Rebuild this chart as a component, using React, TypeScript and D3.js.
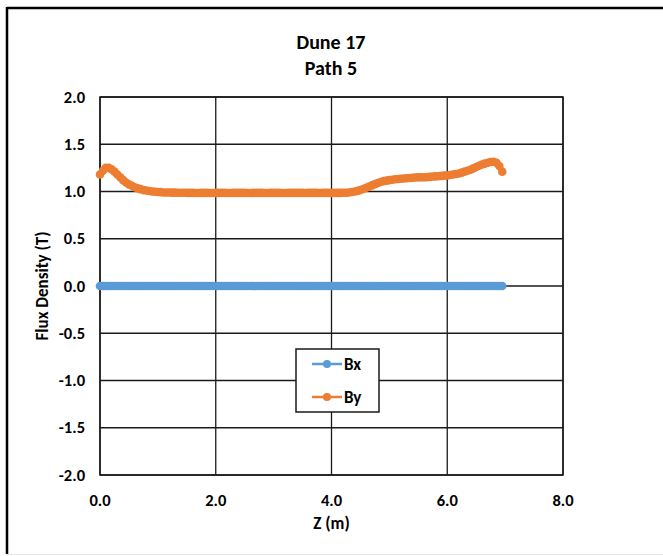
import React, { useEffect, useRef } from "react";
import * as d3 from "d3";

// position along path (m)
const zValues = [
  0, 0.05, 0.1, 0.15, 0.2, 0.25, 0.3, 0.35, 0.4, 0.45,
  0.5, 0.55, 0.6, 0.65, 0.7, 0.75, 0.8, 0.85, 0.9, 0.95,
  1.0, 1.05, 1.1, 1.15, 1.2, 1.25, 1.3, 1.35, 1.4, 1.45,
  1.5, 1.55, 1.6, 1.65, 1.7, 1.75, 1.8, 1.85, 1.9, 1.95,
  2.0, 2.05, 2.1, 2.15, 2.2, 2.25, 2.3, 2.35, 2.4, 2.45,
  2.5, 2.55, 2.6, 2.65, 2.7, 2.75, 2.8, 2.85, 2.9, 2.95,
  3.0, 3.05, 3.1, 3.15, 3.2, 3.25, 3.3, 3.35, 3.4, 3.45,
  3.5, 3.55, 3.6, 3.65, 3.7, 3.75, 3.8, 3.85, 3.9, 3.95,
  4.0, 4.05, 4.1, 4.15, 4.2, 4.25, 4.3, 4.35, 4.4, 4.45,
  4.5, 4.55, 4.6, 4.65, 4.7, 4.75, 4.8, 4.85, 4.9, 4.95,
  5.0, 5.05, 5.1, 5.15, 5.2, 5.25, 5.3, 5.35, 5.4, 5.45,
  5.5, 5.55, 5.6, 5.65, 5.7, 5.75, 5.8, 5.85, 5.9, 5.95,
  6.0, 6.05, 6.1, 6.15, 6.2, 6.25, 6.3, 6.35, 6.4, 6.45,
  6.5, 6.55, 6.6, 6.65, 6.7, 6.75, 6.8, 6.85, 6.9, 6.95
];

const bxValues = [
  0, 0, 0, 0, 0, 0, 0, 0, 0, 0, 0, 0, 0, 0, 0, 0, 0, 0, 0, 0,
  0, 0, 0, 0, 0, 0, 0, 0, 0, 0, 0, 0, 0, 0, 0, 0, 0, 0, 0, 0,
  0, 0, 0, 0, 0, 0, 0, 0, 0, 0, 0, 0, 0, 0, 0, 0, 0, 0, 0, 0,
  0, 0, 0, 0, 0, 0, 0, 0, 0, 0, 0, 0, 0, 0, 0, 0, 0, 0, 0, 0,
  0, 0, 0, 0, 0, 0, 0, 0, 0, 0, 0, 0, 0, 0, 0, 0, 0, 0, 0, 0,
  0, 0, 0, 0, 0, 0, 0, 0, 0, 0, 0, 0, 0, 0, 0, 0, 0, 0, 0, 0,
  0, 0, 0, 0, 0, 0, 0, 0, 0, 0, 0, 0, 0, 0, 0, 0, 0, 0, 0, 0
];

const byValues = [
  1.18, 1.22, 1.25, 1.25, 1.235, 1.21, 1.18, 1.15, 1.12, 1.095,
  1.075, 1.06, 1.045, 1.035, 1.025, 1.015, 1.01, 1.005, 1.0, 0.998,
  0.995, 0.993, 0.99, 0.99, 0.99, 0.988, 0.988, 0.987, 0.987, 0.986,
  0.985, 0.985, 0.985, 0.984, 0.984, 0.985, 0.985, 0.985, 0.984, 0.984,
  0.985, 0.985, 0.985, 0.985, 0.984, 0.984, 0.985, 0.985, 0.985, 0.985,
  0.985, 0.984, 0.984, 0.985, 0.985, 0.985, 0.985, 0.984, 0.984, 0.985,
  0.985, 0.985, 0.985, 0.984, 0.984, 0.985, 0.985, 0.985, 0.985, 0.985,
  0.985, 0.984, 0.985, 0.985, 0.985, 0.985, 0.984, 0.985, 0.985, 0.985,
  0.985, 0.985, 0.985, 0.985, 0.986, 0.987, 0.99, 0.994, 1.0, 1.007,
  1.015, 1.027, 1.04, 1.052, 1.065, 1.078, 1.09, 1.1, 1.11, 1.115,
  1.12, 1.125, 1.13, 1.133, 1.135, 1.138, 1.14, 1.143, 1.145, 1.148,
  1.15, 1.15, 1.15, 1.152, 1.155, 1.158, 1.16, 1.162, 1.165, 1.168,
  1.17, 1.175, 1.18, 1.185, 1.19, 1.2, 1.21, 1.22, 1.23, 1.245,
  1.26, 1.272, 1.285, 1.295, 1.305, 1.312, 1.315, 1.305, 1.27, 1.21
];

const xTicks = [0, 2, 4, 6, 8];
const yTicks = [-2, -1.5, -1, -0.5, 0, 0.5, 1, 1.5, 2];

const seriesNames = ["Bx", "By"];
const seriesColors = ["#5B9BD5", "#ED7D31"];

const FONT = "Carlito, Calibri, 'Open Sans', 'Liberation Sans', sans-serif";

// Excel style labels: hyphen minus, one decimal
const fmt = (d: number) => d.toFixed(1);

export default function App() {
  const ref = useRef<SVGSVGElement | null>(null);

  useEffect(() => {
    const width = 663;
    const height = 556;
    const margin = { top: 97, left: 100, bottom: 81, right: 100 };
    const iwidth = width - margin.left - margin.right;
    const iheight = height - margin.top - margin.bottom;

    const svg = d3.select(ref.current);
    svg.selectAll("*").remove();

    svg.append("rect")
      .attr("width", width)
      .attr("height", height)
      .attr("fill", "white");

    // outer chart frame (right side runs off the picture)
    svg.append("line")
      .attr("x1", 7).attr("x2", width).attr("y1", 8).attr("y2", 8)
      .attr("stroke", "black").attr("stroke-width", 2.5);
    svg.append("line")
      .attr("x1", 7).attr("x2", 7).attr("y1", 7).attr("y2", 554)
      .attr("stroke", "black").attr("stroke-width", 2.5);
    svg.append("line")
      .attr("x1", 7).attr("x2", width).attr("y1", 554.5).attr("y2", 554.5)
      .attr("stroke", "#e6e6e6").attr("stroke-width", 1);

    // title
    svg.append("text")
      .attr("x", 331).attr("y", 49)
      .attr("text-anchor", "middle")
      .style("font-family", FONT).style("font-weight", "bold").style("font-size", "20px")
      .text("Dune 17");
    svg.append("text")
      .attr("x", 331).attr("y", 75)
      .attr("text-anchor", "middle")
      .style("font-family", FONT).style("font-weight", "bold").style("font-size", "20px")
      .text("Path 5");

    const g = svg.append("g").attr("transform", `translate(${margin.left},${margin.top})`);

    const x = d3.scaleLinear().domain([0, 8]).range([0, iwidth]);
    const y = d3.scaleLinear().domain([-2, 2]).range([iheight, 0]);

    // grid
    g.selectAll(".vgrid").data(xTicks).enter().append("line")
      .attr("x1", d => x(d)).attr("x2", d => x(d))
      .attr("y1", 0).attr("y2", iheight)
      .attr("stroke", "#1a1a1a").attr("stroke-width", 1.3);
    g.selectAll(".hgrid").data(yTicks).enter().append("line")
      .attr("x1", 0).attr("x2", iwidth)
      .attr("y1", d => y(d)).attr("y2", d => y(d))
      .attr("stroke", "#1a1a1a").attr("stroke-width", 1.3);
    g.append("rect")
      .attr("width", iwidth).attr("height", iheight)
      .attr("fill", "none").attr("stroke", "#1a1a1a").attr("stroke-width", 1.5);

    // tick labels
    g.selectAll(".xlab").data(xTicks).enter().append("text")
      .attr("x", d => x(d)).attr("y", iheight + 31)
      .attr("text-anchor", "middle")
      .style("font-family", FONT).style("font-weight", "bold").style("font-size", "16.5px")
      .text(d => fmt(d));
    g.selectAll(".ylab").data(yTicks).enter().append("text")
      .attr("x", -15).attr("y", d => y(d) + 5.5)
      .attr("text-anchor", "end")
      .style("font-family", FONT).style("font-weight", "bold").style("font-size", "16.5px")
      .text(d => fmt(d));

    // axis titles
    svg.append("text")
      .attr("x", margin.left + x(4)).attr("y", 529)
      .attr("text-anchor", "middle")
      .style("font-family", FONT).style("font-weight", "bold").style("font-size", "17px")
      .text("Z (m)");
    svg.append("text")
      .attr("transform", `translate(48,${margin.top + y(0)}) rotate(-90)`)
      .attr("text-anchor", "middle")
      .style("font-family", FONT).style("font-weight", "bold").style("font-size", "17px")
      .text("Flux Density (T)");

    // series
    const series = [bxValues, byValues];
    series.forEach((vals, i) => {
      const pts = zValues.map((z, j) => [z, vals[j]] as [number, number]);
      const line = d3.line<[number, number]>().x(d => x(d[0])).y(d => y(d[1]));
      g.append("path")
        .attr("d", line(pts))
        .attr("fill", "none")
        .attr("stroke", seriesColors[i])
        .attr("stroke-width", 2.5);
      g.selectAll(".m" + i).data(pts).enter().append("circle")
        .attr("cx", d => x(d[0])).attr("cy", d => y(d[1]))
        .attr("r", 4.3)
        .attr("fill", seriesColors[i]);
    });

    // legend
    const lg = svg.append("g").attr("transform", "translate(296,349)");
    lg.append("rect")
      .attr("width", 83).attr("height", 63)
      .attr("fill", "white").attr("stroke", "#1a1a1a").attr("stroke-width", 1.5);
    seriesNames.forEach((name, i) => {
      const ly = 15 + i * 33;
      lg.append("line")
        .attr("x1", 16).attr("x2", 46).attr("y1", ly).attr("y2", ly)
        .attr("stroke", seriesColors[i]).attr("stroke-width", 2.5);
      lg.append("circle")
        .attr("cx", 31).attr("cy", ly).attr("r", 4)
        .attr("fill", seriesColors[i]);
      lg.append("text")
        .attr("x", 48).attr("y", ly + 6)
        .style("font-family", FONT).style("font-weight", "bold").style("font-size", "17px")
        .text(name);
    });
  }, []);

  return (
    <svg
      ref={ref}
      width={663}
      height={556}
      style={{ position: "absolute", left: 0, top: 0 }}
    />
  );
}
